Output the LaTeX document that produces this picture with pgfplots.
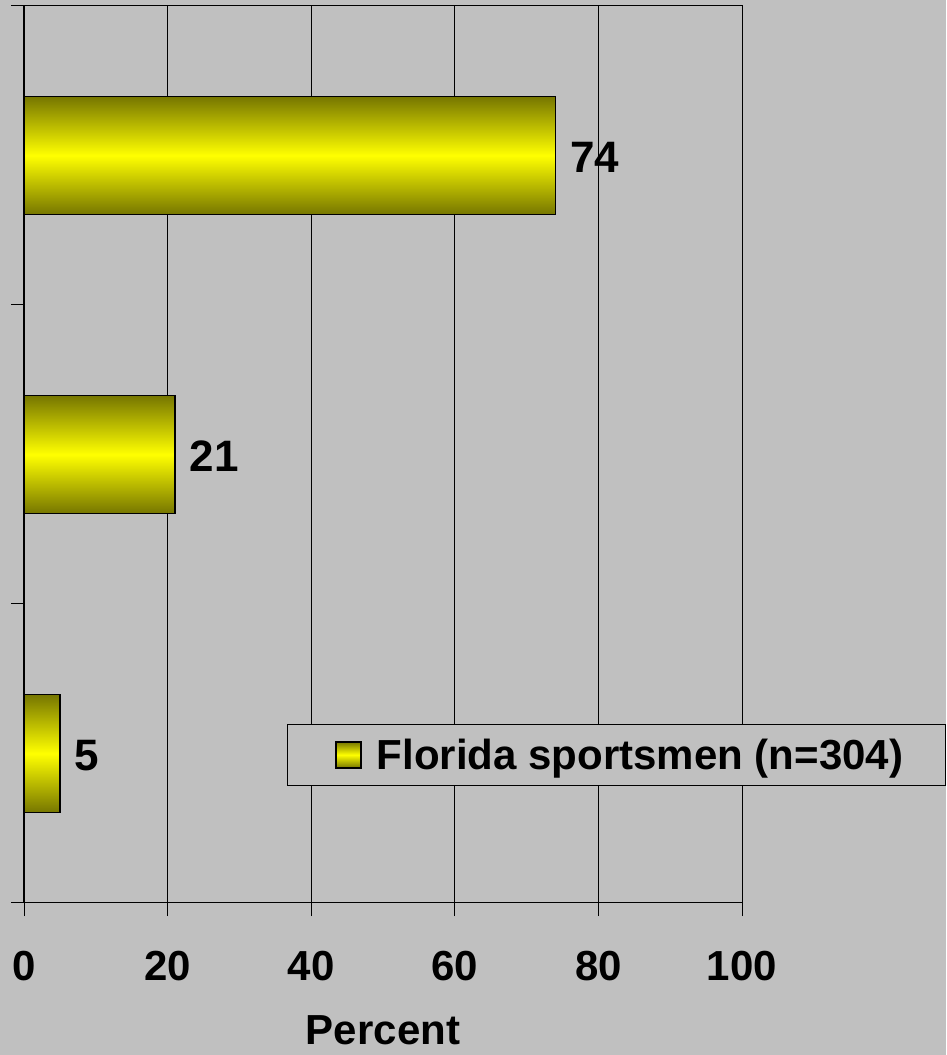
\documentclass[border=0pt]{standalone}
\usepackage{fontspec}
\setmainfont{Liberation Sans}
\usepackage{pgfplots}
\pgfplotsset{compat=1.18}
\definecolor{bg}{RGB}{192,192,192}
\definecolor{bardark}{RGB}{118,118,0}
\definecolor{baryel}{RGB}{255,255,0}
\begin{document}
\begin{tikzpicture}
\useasboundingbox (0,0) rectangle (946pt,1055pt);
\fill[bg] (0,0) rectangle (946pt,1055pt);
\begin{axis}[
  at={(24pt,152pt)}, anchor=south west,
  scale only axis, width=718pt, height=897pt,
  xmin=0, xmax=100, ymin=-0.5, ymax=2.5,
  xtick={0,20,40,60,80,100},
  ytick={-0.5,0.5,1.5,2.5}, yticklabels={},
  xtick pos=bottom, ytick pos=left,
  tick align=outside, major tick length=13pt,
  tick style={black, line width=1pt},
  axis line style={black, line width=1pt},
  xmajorgrids, grid style={black, line width=1pt},
  /pgf/number format/assume math mode=true,
  ticklabel style={font=\fontsize{42}{48}\selectfont\bfseries},
  xticklabel style={anchor=center, yshift=-50pt},
  xlabel={Percent},
  xlabel style={font=\fontsize{42}{48}\selectfont\bfseries, at={(axis description cs:0.5,0)}, anchor=center, yshift=-127pt},
  xbar, bar width=118pt, bar shift=0pt,
  nodes near coords,
  nodes near coords style={font=\fontsize{44}{50}\selectfont\bfseries, anchor=west, xshift=11pt, yshift=-2pt, black},
  legend style={at={(0.3663,0.1996)}, anchor=north west, fill=bg, draw=black, line width=0.8pt,
    font=\fontsize{42}{48}\selectfont\bfseries, inner xsep=39pt, inner ysep=11.5pt, nodes={inner sep=3pt}},
  legend image code/.code={\path (-9pt,0pt); \draw[#1, line width=1.5pt] (0pt,-13pt) rectangle (25pt,13pt);},
  clip=false,
]
\addplot[draw=black, line width=1.5pt, top color=bardark, bottom color=bardark, middle color=baryel]
  coordinates {(74,2)};
\addlegendentry{\hspace{12pt}Florida sportsmen (n=304)}
\addplot[forget plot, draw=black, line width=1.5pt, top color=bardark, bottom color=bardark, middle color=baryel]
  coordinates {(21,1)};
\addplot[forget plot, draw=black, line width=1.5pt, top color=bardark, bottom color=bardark, middle color=baryel]
  coordinates {(5,0)};
\draw[black, line width=2.5pt] (axis cs:0,-0.5) -- (axis cs:0,2.5);
\end{axis}
\end{tikzpicture}
\end{document}
